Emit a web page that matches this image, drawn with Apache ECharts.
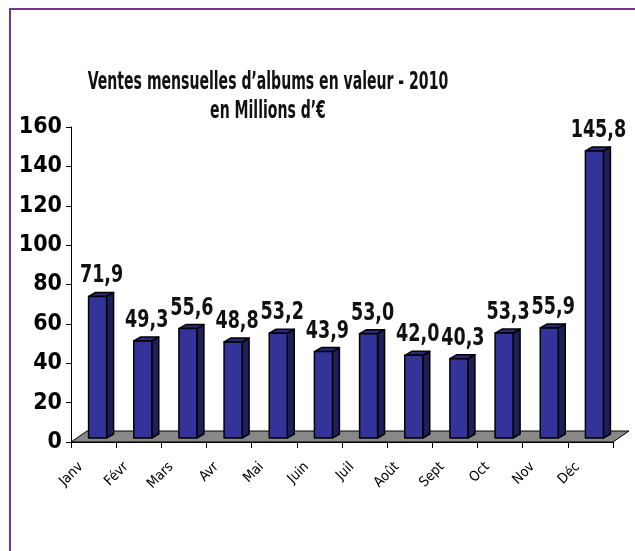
<!DOCTYPE html>
<html><head><meta charset="utf-8">
<script src="https://cdn.jsdelivr.net/npm/echarts@6/dist/echarts.min.js"></script>
<style>html,body{margin:0;padding:0;background:#fff}#c{width:635px;height:551px}</style>
</head><body><div id="c"></div>
<script>
const categories = ['Janv','Févr','Mars','Avr','Mai','Juin','Juil','Août','Sept','Oct','Nov','Déc'];
const values = [71.9, 49.3, 55.6, 48.8, 53.2, 43.9, 53.0, 42.0, 40.3, 53.3, 55.9, 145.8];
const titleLines = ['Ventes mensuelles d\u2019albums en valeur - 2010', 'en Millions d\u2019\u20ac'];
const yMin = 0, yMax = 160, yStep = 20;

const FONT = "'DejaVu Sans Condensed','Liberation Sans Narrow',sans-serif";
const chart = echarts.init(document.getElementById('c'), null, {renderer: 'canvas'});

function fmt(v) { return v.toFixed(1).replace('.', ','); }

chart.setOption({
  animation: false,
  backgroundColor: '#fff',
  graphic: [
    {type: 'rect', shape: {x: 10, y: 9, width: 700, height: 700},
      style: {fill: 'none', stroke: '#6b3a8e', lineWidth: 2}, z: 0},
    {type: 'text', x: 268, y: 82, scaleX: 0.625, z: 5,
      style: {text: titleLines[0], fontFamily: FONT, fontWeight: 'bold', fontSize: 25,
        fill: '#111', align: 'center', verticalAlign: 'middle'}},
    {type: 'text', x: 268, y: 111, scaleX: 0.625, z: 5,
      style: {text: titleLines[1], fontFamily: FONT, fontWeight: 'bold', fontSize: 25,
        fill: '#111', align: 'center', verticalAlign: 'middle'}}
  ],
  grid: {left: 71, right: 22, top: 127, bottom: 109, containLabel: false},
  xAxis: {
    type: 'category', data: categories, boundaryGap: true,
    axisLine: {show: true, lineStyle: {color: '#000', width: 1}},
    axisTick: {show: true, length: 6, lineStyle: {color: '#000'}},
    axisLabel: {rotate: 45, margin: 10, padding: [0, 18, 0, 0], fontFamily: FONT, fontSize: 14, color: '#000', interval: 0},
    splitLine: {show: false}
  },
  yAxis: {
    type: 'value', min: yMin, max: yMax, interval: yStep,
    axisLine: {show: true, lineStyle: {color: '#000', width: 1}},
    axisTick: {show: true, length: 5, lineStyle: {color: '#000'}},
    axisLabel: {margin: 9, fontFamily: FONT, fontWeight: 'bold', fontSize: 23, color: '#000'},
    splitLine: {show: false}
  },
  series: [
    {
      type: 'custom', z: 1,
      data: [0],
      renderItem: function (params, api) {
        const cs = params.coordSys;
        const x = cs.x, y = cs.y, w = cs.width, h = cs.height;
        return {
          type: 'polygon',
          shape: {points: [[x, y + h], [x + 16, y + h - 11], [x + w + 16, y + h - 11], [x + w, y + h]]},
          style: {fill: '#888888', stroke: '#000', lineWidth: 1}
        };
      }
    },
    {
      type: 'custom', z: 2,
      data: values.map((v, i) => [i, v]),
      encode: {x: 0, y: 1},
      renderItem: function (params, api) {
        const v = api.value(1);
        const base = api.coord([api.value(0), 0]);
        const top = api.coord([api.value(0), v]);
        const bw = 18, dx = 7, dy = 4, sx = 4;
        const yb = base[1] - 4, yt = top[1] - 4;
        const x0 = base[0] + sx - bw / 2, x1 = x0 + bw;
        const stroke = {stroke: '#000', lineWidth: 1.5, lineJoin: 'round'};
        return {
          type: 'group',
          children: [
            {type: 'polygon', shape: {points: [[x1, yt], [x1 + dx, yt - dy], [x1 + dx, yb - dy], [x1, yb]]},
              style: Object.assign({fill: '#1e1e58'}, stroke)},
            {type: 'polygon', shape: {points: [[x0, yt], [x0 + dx, yt - dy], [x1 + dx, yt - dy], [x1, yt]]},
              style: Object.assign({fill: '#2a2a7a'}, stroke)},
            {type: 'rect', shape: {x: x0, y: yt, width: bw, height: yb - yt},
              style: Object.assign({fill: '#333399'}, stroke)},
            {type: 'text', x: x0 + bw / 2 + 4, y: yt - dy - 4, scaleX: 0.78,
              style: {text: fmt(v), fontFamily: FONT, fontWeight: 'bold', fontSize: 25,
                fill: '#111', align: 'center', verticalAlign: 'bottom'}}
          ]
        };
      }
    }
  ]
});
</script></body></html>
